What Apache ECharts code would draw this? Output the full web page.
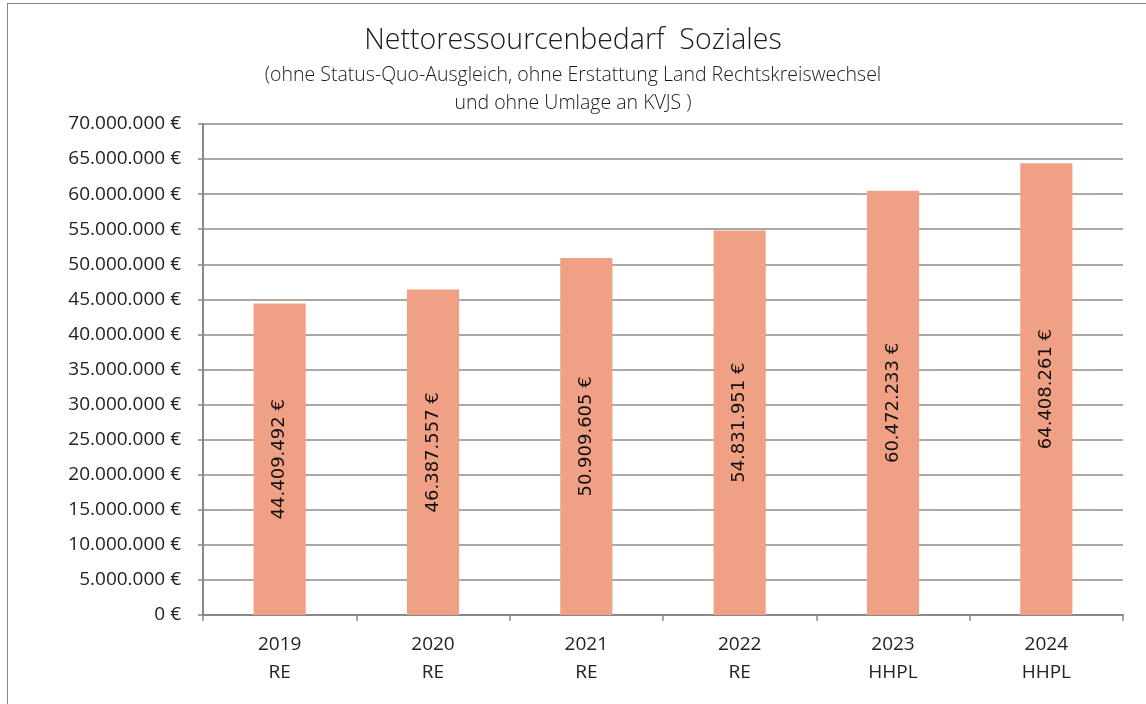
<!DOCTYPE html>
<html>
<head>
<meta charset="utf-8">
<script src="https://cdn.jsdelivr.net/npm/echarts@6/dist/echarts.min.js"></script>
<style>
  html, body { margin: 0; padding: 0; background: #fff; }
  #frame { position: absolute; left: 7px; top: 3px; width: 1146px; height: 710px; border: 1.5px solid #8a8a8a; box-sizing: border-box; }
  #chart { position: absolute; left: 0; top: 0; width: 1146px; height: 704px; }
</style>
</head>
<body>
<div id="frame"></div>
<div id="chart"></div>
<script>
// Jahre und Haushaltsart (Rechnungsergebnis / Haushaltsplan)
const years = ['2019', '2020', '2021', '2022', '2023', '2024'];
const kinds = ['RE', 'RE', 'RE', 'RE', 'HHPL', 'HHPL'];
// Nettoressourcenbedarf in Euro
const values = [44409492, 46387557, 50909605, 54831951, 60472233, 64408261];

const titleText = 'Nettoressourcenbedarf  Soziales';
const subtitleLines = [
  '(ohne Status-Quo-Ausgleich, ohne Erstattung Land Rechtskreiswechsel',
  'und ohne Umlage an KVJS )'
];

const fmtEuro = v => Math.round(v).toString().replace(/\B(?=(\d{3})+(?!\d))/g, '.') + ' €';

const chart = echarts.init(document.getElementById('chart'), null, { renderer: 'canvas' });
const fontFam = '"Open Sans", "Noto Sans", sans-serif';
const subStyle = { fontFamily: fontFam, fontWeight: 300, fontSize: 19.5, color: '#1a1a1a' };

chart.setOption({
  backgroundColor: 'transparent',
  animation: false,
  title: [
    {
      text: titleText,
      left: 'center', top: 21,
      textStyle: { fontFamily: fontFam, fontWeight: 300, fontSize: 28.5, color: '#1a1a1a' }
    },
    { text: subtitleLines[0], left: 'center', top: 60, textStyle: subStyle },
    { text: subtitleLines[1], left: 'center', top: 88, textStyle: subStyle }
  ],
  grid: { left: 203, right: 23, top: 124, bottom: 89 },
  xAxis: {
    type: 'category',
    data: years.map((y, i) => y + '\n' + kinds[i]),
    axisLine: { lineStyle: { color: '#888', width: 2 } },
    axisTick: { show: true, alignWithLabel: false, length: 6, lineStyle: { color: '#888', width: 1.5 } },
    axisLabel: { fontFamily: fontFam, fontSize: 19, color: '#222', lineHeight: 28, margin: 16 }
  },
  yAxis: {
    type: 'value',
    min: 0, max: 70000000, interval: 5000000,
    axisLine: { show: true, lineStyle: { color: '#888', width: 2 } },
    axisTick: { show: true, length: 5, lineStyle: { color: '#888', width: 1.5 } },
    splitLine: { lineStyle: { color: '#8c8c8c', width: 1.5 } },
    axisLabel: { formatter: fmtEuro, fontFamily: fontFam, fontSize: 19, color: '#222', margin: 22 }
  },
  series: [{
    type: 'bar',
    data: values,
    barWidth: '34%',
    itemStyle: { color: '#F0A084' },
    label: {
      show: true,
      position: 'inside',
      rotate: 90,
      formatter: p => fmtEuro(p.value),
      fontFamily: '"DejaVu Sans", sans-serif',
      fontSize: 18,
      color: '#111'
    }
  }]
});
</script>
</body>
</html>
